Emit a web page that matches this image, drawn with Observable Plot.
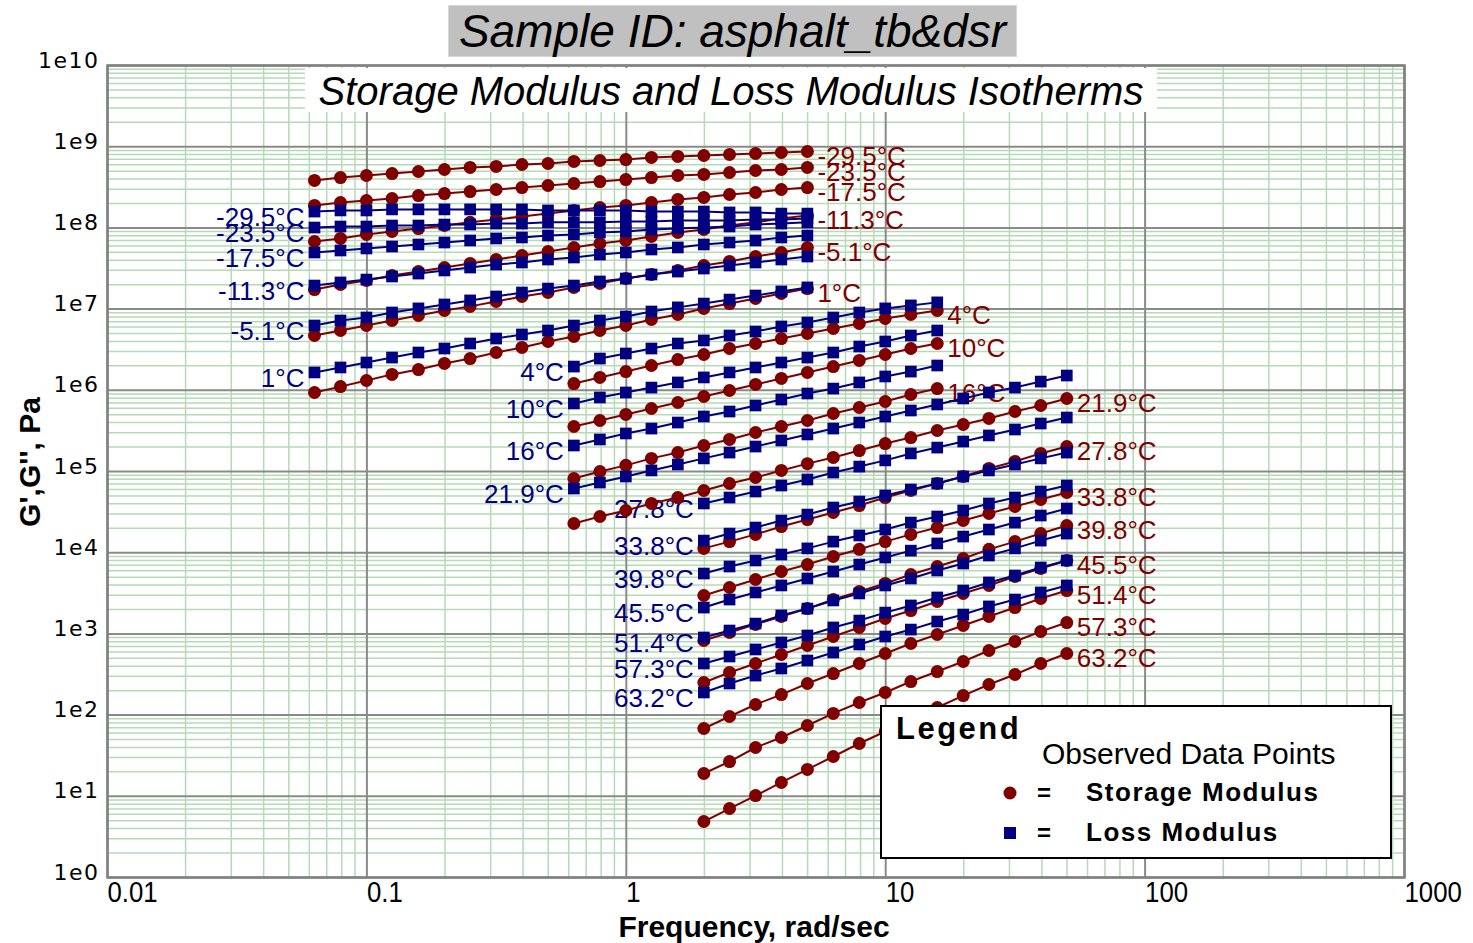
<!DOCTYPE html>
<html><head><meta charset="utf-8">
<script src="https://cdn.jsdelivr.net/npm/d3@7"></script>
<script src="https://cdn.jsdelivr.net/npm/@observablehq/plot@0.6"></script>
<style>
body{margin:0;background:#fff;}
#wrap{position:relative;width:1473px;height:943px;overflow:hidden;background:#fff;font-family:"Liberation Sans",Arial,sans-serif;color:#000;}
#chart svg{display:block}
.title{position:absolute;left:448px;top:5px;width:569px;height:52px;box-sizing:border-box;background:#c0c0c0;border:1px solid #d8d8d8;font:italic 46px "Liberation Sans",sans-serif;line-height:50px;text-align:center;white-space:nowrap;}
.subtitle{position:absolute;left:305px;top:68px;width:852px;height:44px;background:#fff;font:italic 40px "Liberation Sans",sans-serif;line-height:46px;text-align:center;white-space:nowrap;}
.xtitle{position:absolute;left:554px;width:400px;top:910px;line-height:34px;text-align:center;font:bold 30px "Liberation Sans",sans-serif;white-space:nowrap;}
.ytitle{position:absolute;left:30px;top:462px;transform:translate(-50%,-50%) rotate(-90deg);font:bold 30px "Liberation Sans",sans-serif;line-height:30px;white-space:nowrap;}
.legend{position:absolute;left:880px;top:705px;}
</style>
</head>
<body>
<div id="wrap">
  <div id="chart"></div>
  <div class="title">Sample ID: asphalt_tb&amp;dsr</div>
  <div class="subtitle">Storage Modulus and Loss Modulus Isotherms</div>
  <div class="xtitle">Frequency, rad/sec</div>
  <div class="ytitle">G',G'', Pa</div>
  <svg class="legend" width="512" height="154" font-family="Liberation Sans, sans-serif">
    <rect x="1" y="1" width="510" height="152" fill="#fff" stroke="#000" stroke-width="2"></rect>
    <text x="16" y="34" font-size="31" font-weight="bold" letter-spacing="2.5">Legend</text>
    <text x="162" y="59" font-size="30">Observed Data Points</text>
    <circle cx="130" cy="88" r="6.5" fill="#800000"></circle>
    <text x="157" y="96" font-size="24" font-weight="bold">=</text>
    <text x="206" y="96" font-size="26" font-weight="bold" letter-spacing="1.5">Storage Modulus</text>
    <rect x="124" y="122" width="12" height="12" fill="#000080"></rect>
    <text x="157" y="136" font-size="24" font-weight="bold">=</text>
    <text x="206" y="136" font-size="26" font-weight="bold" letter-spacing="1.5">Loss Modulus</text>
  </svg>
</div>
<script>
// Frequencies (rad/s)
const freqLow = [0.0628, 0.0791, 0.0996, 0.125, 0.158, 0.199, 0.250, 0.315, 0.396, 0.499, 0.628, 0.791, 0.996, 1.25, 1.58, 1.99, 2.50, 3.15, 3.96, 4.99];
const freqMid = [0.628, 0.791, 0.996, 1.25, 1.58, 1.99, 2.50, 3.15, 3.96, 4.99, 6.28, 7.91, 9.96, 12.5, 15.8];
const freqMidExt = [0.628, 0.791, 0.996, 1.25, 1.58, 1.99, 2.50, 3.15, 3.96, 4.99, 6.28, 7.91, 9.96, 12.5, 15.8, 19.9, 25.0, 31.5, 39.6, 49.9];
const freqHigh = [1.99, 2.50, 3.15, 3.96, 4.99, 6.28, 7.91, 9.96, 12.5, 15.8, 19.9, 25.0, 31.5, 39.6, 49.9];

// Storage modulus G' and loss modulus G'' (Pa) per isotherm
const storageM29_5 = [3.84e8, 4.17e8, 4.42e8, 4.67e8, 4.95e8, 5.24e8, 5.55e8, 5.71e8, 6.04e8, 6.21e8, 6.58e8, 6.76e8, 6.95e8, 7.37e8, 7.58e8, 7.79e8, 8.02e8, 8.25e8, 8.49e8, 8.73e8];
const lossM29_5 = [1.59e8, 1.64e8, 1.64e8, 1.69e8, 1.69e8, 1.69e8, 1.69e8, 1.69e8, 1.69e8, 1.64e8, 1.64e8, 1.64e8, 1.64e8, 1.59e8, 1.59e8, 1.59e8, 1.55e8, 1.55e8, 1.50e8, 1.50e8];
const storageM23_5 = [1.89e8, 2.05e8, 2.17e8, 2.30e8, 2.50e8, 2.65e8, 2.80e8, 2.97e8, 3.14e8, 3.33e8, 3.52e8, 3.72e8, 3.94e8, 4.17e8, 4.42e8, 4.55e8, 4.81e8, 5.09e8, 5.24e8, 5.55e8];
const lossM23_5 = [1.01e8, 1.04e8, 1.04e8, 1.07e8, 1.07e8, 1.10e8, 1.10e8, 1.13e8, 1.13e8, 1.17e8, 1.17e8, 1.17e8, 1.20e8, 1.20e8, 1.23e8, 1.23e8, 1.23e8, 1.27e8, 1.27e8, 1.31e8];
const storageM17_5 = [6.80e7, 7.41e7, 8.30e7, 9.04e7, 9.81e7, 1.07e8, 1.17e8, 1.27e8, 1.38e8, 1.50e8, 1.64e8, 1.78e8, 1.89e8, 2.05e8, 2.24e8, 2.37e8, 2.58e8, 2.73e8, 2.97e8, 3.14e8];
const lossM17_5 = [4.98e7, 5.27e7, 5.58e7, 5.90e7, 6.25e7, 6.61e7, 7.00e7, 7.41e7, 7.62e7, 8.06e7, 8.30e7, 8.78e7, 9.04e7, 9.56e7, 9.83e7, 1.01e8, 1.04e8, 1.10e8, 1.13e8, 1.17e8];
const storageM11_3 = [1.74e7, 2.01e7, 2.25e7, 2.59e7, 2.90e7, 3.25e7, 3.65e7, 4.08e7, 4.57e7, 5.12e7, 5.74e7, 6.43e7, 6.99e7, 7.83e7, 8.77e7, 9.55e7, 1.07e8, 1.17e8, 1.31e8, 1.42e8];
const lossM11_3 = [1.95e7, 2.13e7, 2.31e7, 2.52e7, 2.74e7, 2.99e7, 3.25e7, 3.54e7, 3.75e7, 4.08e7, 4.32e7, 4.70e7, 4.98e7, 5.42e7, 5.74e7, 6.25e7, 6.61e7, 7.00e7, 7.62e7, 8.06e7];
const storageM5_1 = [4.73e6, 5.45e6, 6.28e6, 7.24e6, 8.34e6, 9.61e6, 1.08e7, 1.24e7, 1.43e7, 1.60e7, 1.85e7, 2.07e7, 2.38e7, 2.67e7, 2.99e7, 3.44e7, 3.86e7, 4.44e7, 4.98e7, 5.74e7];
const lossM5_1 = [6.28e6, 7.24e6, 7.88e6, 9.08e6, 1.02e7, 1.14e7, 1.28e7, 1.43e7, 1.60e7, 1.79e7, 1.95e7, 2.19e7, 2.38e7, 2.67e7, 2.90e7, 3.16e7, 3.44e7, 3.75e7, 4.08e7, 4.44e7];
const storage1 = [9.40e5, 1.11e6, 1.32e6, 1.57e6, 1.80e6, 2.14e6, 2.46e6, 2.92e6, 3.37e6, 3.99e6, 4.60e6, 5.45e6, 6.28e6, 7.45e6, 8.58e6, 1.02e7, 1.17e7, 1.35e7, 1.56e7, 1.79e7];
const loss1 = [1.66e6, 1.91e6, 2.20e6, 2.53e6, 2.92e6, 3.27e6, 3.77e6, 4.34e6, 4.87e6, 5.45e6, 6.28e6, 7.24e6, 8.11e6, 9.34e6, 1.05e7, 1.17e7, 1.31e7, 1.47e7, 1.65e7, 1.85e7];
const storage4 = [1.21e6, 1.44e6, 1.70e6, 2.02e6, 2.39e6, 2.76e6, 3.27e6, 3.77e6, 4.34e6, 5.01e6, 5.77e6, 6.65e6, 7.66e6, 8.58e6, 9.61e6];
const loss4 = [1.96e6, 2.46e6, 2.84e6, 3.27e6, 3.77e6, 4.11e6, 4.73e6, 5.30e6, 6.11e6, 6.84e6, 7.88e6, 9.08e6, 1.02e7, 1.11e7, 1.21e7];
const storage10 = [3.58e5, 4.25e5, 5.04e5, 5.97e5, 7.07e5, 8.39e5, 9.94e5, 1.18e6, 1.40e6, 1.66e6, 1.96e6, 2.33e6, 2.76e6, 3.27e6, 3.77e6];
const loss10 = [6.88e5, 8.16e5, 9.40e5, 1.08e6, 1.25e6, 1.44e6, 1.66e6, 1.91e6, 2.20e6, 2.53e6, 2.92e6, 3.46e6, 3.99e6, 4.73e6, 5.45e6];
const storage16 = [8.20e4, 1.00e5, 1.19e5, 1.45e5, 1.71e5, 2.09e5, 2.48e5, 3.02e5, 3.58e5, 4.25e5, 5.18e5, 6.14e5, 7.28e5, 8.88e5, 1.05e6];
const loss16 = [2.09e5, 2.48e5, 2.94e5, 3.38e5, 4.01e5, 4.76e5, 5.48e5, 6.50e5, 7.70e5, 9.13e5, 1.05e6, 1.25e6, 1.48e6, 1.70e6, 2.02e6];
const storage21_9 = [2.29e4, 2.79e4, 3.31e4, 4.04e4, 4.78e4, 5.83e4, 7.12e4, 8.44e4, 1.03e5, 1.25e5, 1.49e5, 1.81e5, 2.21e5, 2.62e5, 3.20e5, 3.79e5, 4.50e5, 5.48e5, 6.50e5, 7.93e5];
const loss21_9 = [6.17e4, 7.32e4, 8.68e4, 1.03e5, 1.22e5, 1.45e5, 1.71e5, 2.03e5, 2.41e5, 2.86e5, 3.38e5, 4.01e5, 4.76e5, 5.64e5, 6.69e5, 7.93e5, 9.40e5, 1.08e6, 1.28e6, 1.52e6];
const storage27_8 = [1.13e4, 1.37e4, 1.68e4, 2.10e4, 2.56e4, 3.13e4, 3.81e4, 4.78e4, 5.83e4, 7.12e4, 8.68e4, 1.09e5, 1.33e5, 1.67e5, 2.03e5];
const loss27_8 = [4.04e4, 4.78e4, 5.67e4, 6.72e4, 7.97e4, 9.72e4, 1.15e5, 1.37e5, 1.67e5, 1.97e5, 2.34e5, 2.78e5, 3.29e5, 3.90e5, 4.62e5];
const storage33_8 = [2.97e3, 3.73e3, 4.68e3, 5.87e3, 7.15e3, 8.98e3, 1.10e4, 1.37e4, 1.68e4, 2.04e4, 2.49e4, 3.04e4, 3.71e4, 4.52e4, 5.51e4];
const loss33_8 = [1.41e4, 1.72e4, 2.04e4, 2.49e4, 2.95e4, 3.60e4, 4.27e4, 5.06e4, 6.00e4, 7.12e4, 8.68e4, 1.03e5, 1.22e5, 1.45e5, 1.71e5];
const storage39_8 = [8.29e2, 1.04e3, 1.31e3, 1.64e3, 2.05e3, 2.65e3, 3.33e3, 4.18e3, 5.39e3, 6.76e3, 8.48e3, 1.10e4, 1.37e4, 1.72e4, 2.16e4];
const loss39_8 = [5.54e3, 6.76e3, 8.02e3, 9.50e3, 1.13e4, 1.37e4, 1.63e4, 1.93e4, 2.35e4, 2.79e4, 3.31e4, 4.04e4, 4.78e4, 5.67e4, 6.72e4];
const storage45_5 = [2.52e2, 3.35e2, 4.32e2, 5.58e2, 7.20e2, 9.29e2, 1.20e3, 1.55e3, 1.94e3, 2.51e3, 3.15e3, 3.95e3, 5.09e3, 6.39e3, 8.02e3];
const loss45_5 = [2.11e3, 2.65e3, 3.24e3, 3.95e3, 4.81e3, 5.87e3, 7.15e3, 8.73e3, 1.06e4, 1.30e4, 1.58e4, 1.93e4, 2.35e4, 2.87e4, 3.50e4];
const storage51_4 = [6.84e1, 9.61e1, 1.35e2, 1.79e2, 2.45e2, 3.25e2, 4.32e2, 5.74e2, 7.62e2, 9.83e2, 1.27e3, 1.64e3, 2.11e3, 2.73e3, 3.42e3];
const loss51_4 = [9.03e2, 1.10e3, 1.34e3, 1.69e3, 2.05e3, 2.58e3, 3.15e3, 3.95e3, 4.81e3, 6.04e3, 7.36e3, 9.24e3, 1.13e4, 1.41e4, 1.72e4];
const storage57_3 = [1.91e1, 2.68e1, 3.99e1, 5.30e1, 7.45e1, 1.05e2, 1.43e2, 1.90e2, 2.59e2, 3.44e2, 4.57e2, 6.25e2, 8.06e2, 1.07e3, 1.38e3];
const loss57_3 = [4.32e2, 5.27e2, 6.43e2, 7.84e2, 9.56e2, 1.20e3, 1.46e3, 1.83e3, 2.24e3, 2.81e3, 3.42e3, 4.30e3, 5.24e3, 6.57e3, 8.02e3];
const storage63_2 = [4.89, 7.07, 1.02e1, 1.48e1, 2.14e1, 3.09e1, 4.47e1, 6.28e1, 8.83e1, 1.24e2, 1.74e2, 2.38e2, 3.16e2, 4.32e2, 5.74e2];
const loss63_2 = [1.90e2, 2.45e2, 3.07e2, 3.75e2, 4.70e2, 5.90e2, 7.41e2, 9.29e2, 1.13e3, 1.42e3, 1.73e3, 2.18e3, 2.65e3, 3.24e3, 3.95e3];

const temperatureLabels = ["-29.5°C", "-23.5°C", "-17.5°C", "-11.3°C", "-5.1°C", "1°C", "4°C", "10°C", "16°C", "21.9°C", "27.8°C", "33.8°C", "39.8°C", "45.5°C", "51.4°C", "57.3°C", "63.2°C"];
const xTickValues = [0.01, 0.1, 1, 10, 100, 1000];
const yTickValues = [1, 10, 100, 1e3, 1e4, 1e5, 1e6, 1e7, 1e8, 1e9, 1e10];
const minorMultipliers = [2, 3, 4, 5, 6, 7, 8, 9];

const freqSets = [freqLow, freqLow, freqLow, freqLow, freqLow, freqLow, freqMid, freqMid, freqMid, freqMidExt, freqHigh, freqHigh, freqHigh, freqHigh, freqHigh, freqHigh, freqHigh];
const storageSets = [storageM29_5, storageM23_5, storageM17_5, storageM11_3, storageM5_1, storage1, storage4, storage10, storage16, storage21_9, storage27_8, storage33_8, storage39_8, storage45_5, storage51_4, storage57_3, storage63_2];
const lossSets = [lossM29_5, lossM23_5, lossM17_5, lossM11_3, lossM5_1, loss1, loss4, loss10, loss16, loss21_9, loss27_8, loss33_8, loss39_8, loss45_5, loss51_4, loss57_3, loss63_2];

const maroon = "#800000", navy = "#000080";

const isotherms = temperatureLabels.map((label, k) => ({label, freq: freqSets[k], storage: storageSets[k], loss: lossSets[k]}));
const rows = isotherms.flatMap(s => s.freq.map((f, i) => ({temp: s.label, f, gp: s.storage[i], gpp: s.loss[i]})));
const leftLabels = isotherms.map(s => ({label: s.label, f: s.freq[0], v: s.loss[0]}));
const rightLabels = isotherms.map(s => ({label: s.label, f: s.freq[s.freq.length - 1], v: s.storage[s.storage.length - 1]}));
const minorX = xTickValues.slice(0, -1).flatMap(d => minorMultipliers.map(m => m * d));
const minorY = yTickValues.slice(0, -1).flatMap(d => minorMultipliers.map(m => m * d));

const chart = Plot.plot({
  width: 1473,
  height: 943,
  marginLeft: 107,
  marginRight: 69,
  marginTop: 65,
  marginBottom: 66,
  x: {type: "log", domain: [0.01, 1000], axis: null},
  y: {type: "log", domain: [1, 1e10], axis: null},
  style: {background: "white", fontFamily: "Liberation Sans, sans-serif", color: "black"},
  marks: [
    Plot.gridX(minorX, {stroke: "#b6d9b6", strokeOpacity: 1, strokeWidth: 1.5}),
    Plot.gridY(minorY, {stroke: "#b6d9b6", strokeOpacity: 1, strokeWidth: 1.5}),
    Plot.gridX(xTickValues, {stroke: "#8a8a8a", strokeOpacity: 1, strokeWidth: 2}),
    Plot.gridY(yTickValues, {stroke: "#8a8a8a", strokeOpacity: 1, strokeWidth: 2}),
    Plot.frame({stroke: "#808080", strokeWidth: 2.5}),
    Plot.axisX(xTickValues, {anchor: "bottom", tickSize: 0, tickPadding: 3, textAnchor: "start", tickFormat: d => String(d), fontSize: 30, fontFamily: "Liberation Sans, sans-serif", label: null}),
    Plot.axisY(yTickValues, {anchor: "left", tickSize: 0, tickPadding: 8, tickFormat: d => "1e" + Math.round(Math.log10(d)), fontSize: 22, fontFamily: "DejaVu Sans, sans-serif", dy: -5, label: null}),
    Plot.text(leftLabels, {x: "f", y: "v", text: "label", textAnchor: "end", dx: -10, dy: 6, fill: navy, fontSize: 26, fontFamily: "Liberation Sans, sans-serif"}),
    Plot.text(rightLabels, {x: "f", y: "v", text: "label", textAnchor: "start", dx: 10, dy: 5, fill: maroon, fontSize: 26, fontFamily: "Liberation Sans, sans-serif"}),
    Plot.line(rows, {x: "f", y: "gp", z: "temp", stroke: maroon, strokeWidth: 2}),
    Plot.dot(rows, {x: "f", y: "gp", r: 6.5, fill: maroon, stroke: null}),
    Plot.line(rows, {x: "f", y: "gpp", z: "temp", stroke: navy, strokeWidth: 2}),
    Plot.dot(rows, {x: "f", y: "gpp", symbol: "square", r: 6.6, fill: navy, stroke: null})
  ]
});
chart.querySelectorAll('g[aria-label="y-axis tick label"]').forEach(g => g.style.letterSpacing = "1.5px");
chart.querySelectorAll('g[aria-label="x-axis tick label"] text').forEach(t => {
  const tr = t.getAttribute("transform") || "";
  t.setAttribute("transform", tr + " scale(0.86,1)");
});
document.getElementById("chart").appendChild(chart);
</script>
</body></html>
